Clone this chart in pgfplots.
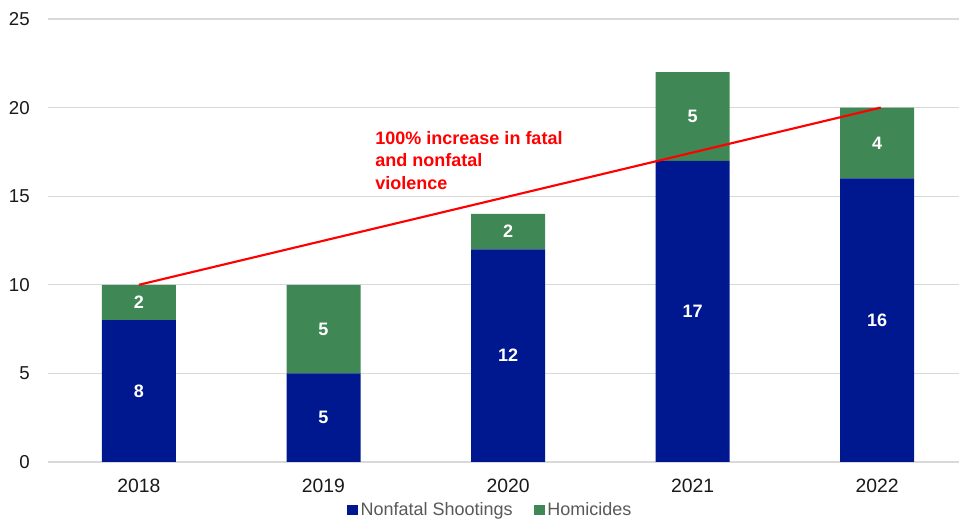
\documentclass[border=0pt]{standalone}
\usepackage{pgfplots}
\pgfplotsset{compat=1.18}
\usepackage{fontspec}
\setmainfont{Liberation Sans}
\definecolor{nfblue}{RGB}{0,24,143}
\definecolor{homgreen}{RGB}{63,135,84}
\definecolor{gridgray}{RGB}{217,217,217}
\definecolor{legtext}{RGB}{89,89,89}
\begin{document}
\fontsize{13.5}{16}\selectfont
\begin{tikzpicture}
\useasboundingbox (-36pt,-43.5pt) rectangle (683.25pt,346.5pt);
\begin{axis}[
  scale only axis,
  width=683.25pt, height=332.25pt,
  xmin=-0.493, xmax=4.444,
  ymin=0, ymax=25,
  ytick={0,5,10,15,20,25},
  xtick={0,1,2,3,4},
  xticklabels={2018,2019,2020,2021,2022},
  ymajorgrids,
  grid style={gridgray, line width=0.9pt},
  axis line style={draw=none},
  major tick style={draw=none},
  ticklabel style={text=black!90},
  /pgf/number format/assume math mode=true,
  yticklabel style={xshift=-9pt, font=\fontsize{14}{16}\selectfont},
  xticklabel style={yshift=-8pt, font=\fontsize{14.5}{16}\selectfont},
  ybar stacked,
  bar width=55.5pt,
  legend style={at={(0.486,-0.108)}, anchor=center, draw=none, legend columns=-1,
    font=\fontsize{13.5}{16}\selectfont, text=legtext,
    /tikz/every even column/.append style={column sep=14pt}},
  legend image code/.code={\fill[#1] (0pt,-4pt) rectangle (8pt,4pt);},
  nodes near coords,
  every node near coord/.append style={anchor=center, text=white,
    font=\bfseries\fontsize{13.5}{16}\selectfont},
]
\addplot[fill=nfblue, draw=none] coordinates {(0,8) (1,5) (2,12) (3,17) (4,16)};
\addlegendentry{Nonfatal Shootings}
\addplot[fill=homgreen, draw=none] coordinates {(0,2) (1,5) (2,2) (3,5) (4,4)};
\addlegendentry{Homicides}
\end{axis}
\begin{axis}[
  scale only axis,
  width=683.25pt, height=332.25pt,
  xmin=-0.493, xmax=4.444,
  ymin=0, ymax=25,
  hide axis,
]
\addplot[red, line width=1.6pt, mark=none] coordinates {(0,10) (4.02,20)};
\node[anchor=north west, text=red, align=left, inner sep=0pt,
  font=\bfseries\fontsize{13.5}{16.8}\selectfont] at (axis cs:1.28,18.68)
  {100\% increase in fatal\\and nonfatal\\violence};
\end{axis}
\end{tikzpicture}
\end{document}
